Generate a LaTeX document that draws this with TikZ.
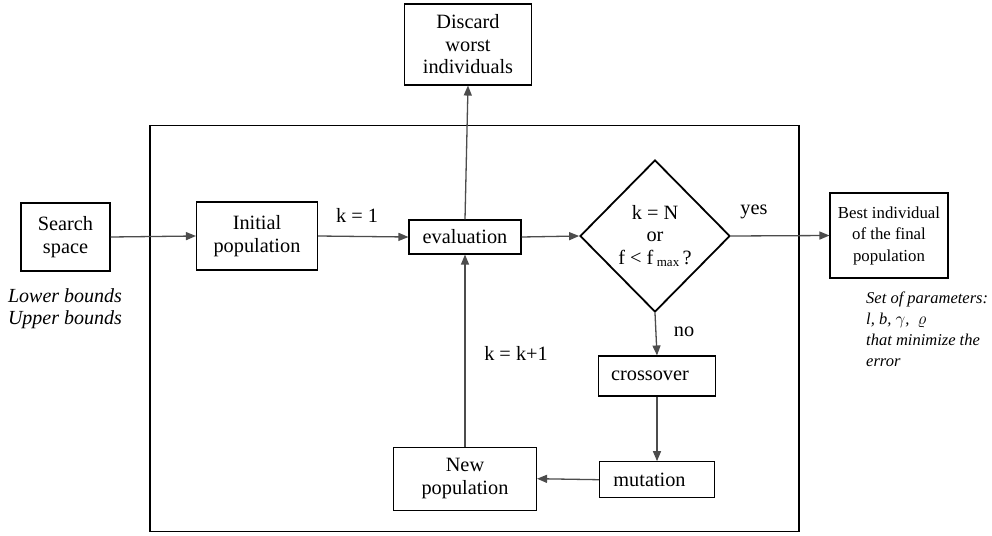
\documentclass[tikz,border=0pt]{standalone}
\usepackage{fontspec}
\setmainfont{Liberation Serif}
\usetikzlibrary{arrows.meta,shapes.geometric}
\begin{document}
\begin{tikzpicture}[x=1pt,y=-1pt,
  txt/.style={font=\fontsize{20.3}{22.5}\selectfont, align=center},
  box/.style={txt, draw=black, line width=1.1pt, rectangle, inner sep=0pt},
  conn/.style={draw=black!70, line width=1.3pt, -{Triangle[length=10pt,width=8pt]}},
  lab/.style={txt},
  note/.style={font=\fontsize{20}{22}\selectfont\itshape, align=center},
  rnote/.style={font=\fontsize{16.5}{20.8}\selectfont\itshape, align=left, anchor=north west, inner sep=0pt}
]
\useasboundingbox (0,0) rectangle (992,535);
\fill[white] (0,0) rectangle (992,535);
% outer frame
\node[draw=black, line width=1.3pt, minimum width=649pt, minimum height=405.5pt, inner sep=0pt] (frame) at (474.5,328.4) {};
% boxes
\node[box, minimum width=89pt, minimum height=68pt] (search) at (65.5,237) {Search\\space};
\node[box, minimum width=121pt, minimum height=68pt] (init) at (257,236) {Initial\\population};
\node[box, minimum width=112pt, minimum height=34pt] (eval) at (465,237) {evaluation};
\node[txt, draw=black, line width=1.8pt, diamond, inner sep=0pt, minimum width=150pt, minimum height=152pt] (dec) at (655,236)
  {k = N\\or\\f < f\,{\fontsize{13}{13}\selectfont\raisebox{-0.35ex}{max}}\,?};
\node[box, font=\fontsize{16.8}{21.5}\selectfont, minimum width=118pt, minimum height=85pt] (best) at (889,235.5) {Best individual\\of the final\\population};
\node[box, minimum width=127pt, minimum height=81pt] (discard) at (468,44.5) {Discard\\worst\\individuals};
\node[box, minimum width=117pt, minimum height=40pt] (cross) at (657,376) {crossover\hspace{14pt}};
\node[box, minimum width=115pt, minimum height=36pt] (mut) at (657,479.7) {mutation\hspace{15pt}};
\node[box, minimum width=143pt, minimum height=63pt] (newpop) at (465,478.7) {New\\population};
% connectors
\draw[conn] (search.east) -- (init.west);
\draw[conn] (init.east) -- (eval.west);
\draw[conn] (eval.east) -- (dec.west);
\draw[conn] (eval.north) -- (discard.south);
\draw[conn] (dec.east) -- (best.west);
\draw[conn] (dec.south) -- (cross.north);
\draw[conn] (cross.south) -- (mut.north);
\draw[conn] (mut.west) -- (newpop.east);
\draw[conn] (newpop.north) -- (eval.south);
% labels
\node[lab] (l1) at (357,215) {k = 1};
\node[lab] (lyes) at (754,212) {yes};
\node[lab] (lno) at (684,332) {no};
\node[lab] (lk) at (516,353) {k = k+1};
\node[note] (bounds) at (65,309) {Lower bounds\\Upper bounds};
\node[rnote] (params) at (866,292) {Set of parameters:\\l, b, $\gamma$,~ $\varrho$\\that minimize the\\error};
\end{tikzpicture}
\end{document}
